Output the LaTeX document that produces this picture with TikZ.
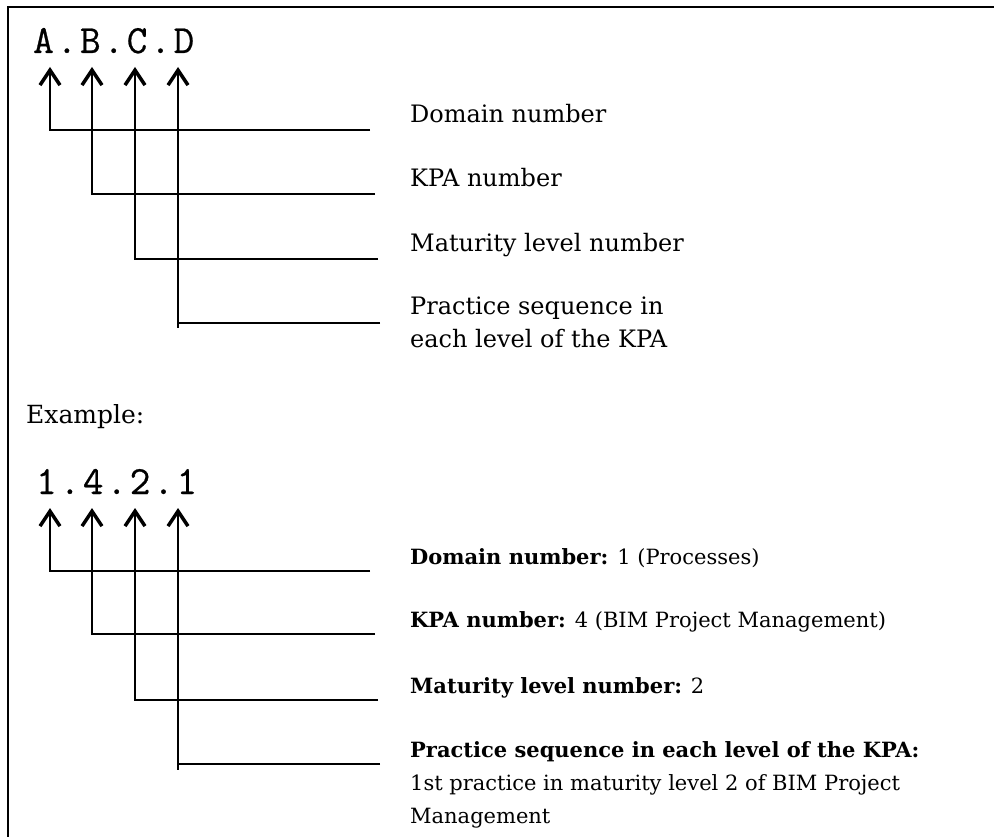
\documentclass[tikz,border=0pt]{standalone}
\usepackage{fontspec}
\setmainfont{DejaVu Serif}
\newfontfamily\codefont[LetterSpace=7,FakeBold=0.6]{Latin Modern Mono}
\usetikzlibrary{arrows.meta}

\begin{document}
\begin{tikzpicture}[x=1pt,y=-1pt,
	code/.style={anchor=base west,inner sep=0pt,font=\codefont\fontsize{40}{40}\selectfont},
	lbl/.style={anchor=base west,inner sep=0pt,align=left,font=\fontsize{24}{33}\selectfont},
	exlbl/.style={anchor=base west,inner sep=0pt,align=left,font=\fontsize{21}{33}\selectfont},
	pointer/.style={line width=1.6pt,-{Straight Barb[length=15pt,width=20pt,line width=3.5pt]}},
	frame/.style={line width=2.5pt}]
	\useasboundingbox (0,0) rectangle (994,837);
	\draw[frame] (8,837) -- (8,7) -- (994,7);

	% generic code
	\node[code] (gen) at (33,53) {A.B.C.D};
	\coordinate (gA) at (50,67);
	\coordinate (gB) at (92,67);
	\coordinate (gC) at (135,67);
	\coordinate (gD) at (178,67);
	\coordinate (gAe) at (370,130);
	\coordinate (gBe) at (375,194);
	\coordinate (gCe) at (378,259);
	\coordinate (gDe) at (380,323);
	\node[lbl] (gDom) at (410,123) {Domain number};
	\node[lbl] (gKpa) at (410,187) {KPA number};
	\node[lbl] (gMat) at (410,252) {Maturity level number};
	% base of a two-line node = baseline of its last line
	\node[lbl] (gPra) at (410,348) {Practice sequence in\\each level of the KPA};
	\draw[pointer] (gAe) -| (gA);
	\draw[pointer] (gBe) -| (gB);
	\draw[pointer] (gCe) -| (gC);
	\draw[pointer] (gDe) -| (gD);
	\draw[line width=1.6pt] (gD |- gDe) -- ++(0,5);

	\node[lbl,font=\fontsize{25}{30}\selectfont] (ex) at (26,423) {Example:};

	% worked example
	\node[code] (num) at (36,494) {1.4.2.1};
	\coordinate (nA) at (50,508);
	\coordinate (nB) at (92,508);
	\coordinate (nC) at (135,508);
	\coordinate (nD) at (178,508);
	\coordinate (nAe) at (370,571);
	\coordinate (nBe) at (375,634);
	\coordinate (nCe) at (378,700);
	\coordinate (nDe) at (380,764);
	\node[exlbl] (nDom) at (410,564) {\textbf{Domain number:} 1 (Processes)};
	\node[exlbl] (nKpa) at (410,627) {\textbf{KPA number:} 4 (BIM Project Management)};
	\node[exlbl] (nMat) at (410,693) {\textbf{Maturity level number:} 2};
	\node[exlbl] (nPra) at (410,823) {\textbf{Practice sequence in each level of the KPA:}\\1st practice in maturity level 2 of BIM Project\\Management};
	\draw[pointer] (nAe) -| (nA);
	\draw[pointer] (nBe) -| (nB);
	\draw[pointer] (nCe) -| (nC);
	\draw[pointer] (nDe) -| (nD);
	\draw[line width=1.6pt] (nD |- nDe) -- ++(0,6);
\end{tikzpicture}
\end{document}
